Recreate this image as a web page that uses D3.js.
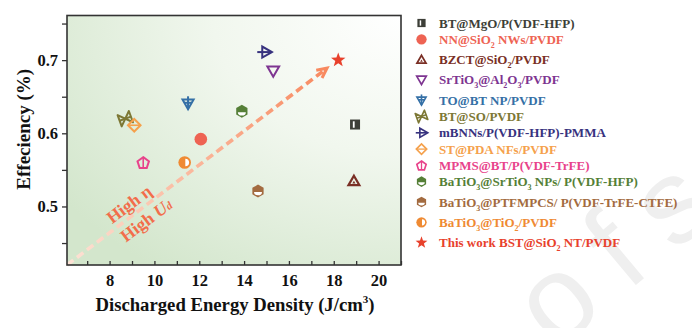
<!DOCTYPE html>
<html>
<head>
<meta charset="utf-8">
<script src="https://cdn.jsdelivr.net/npm/d3@7/dist/d3.min.js"></script>
<style>
  html, body { margin: 0; padding: 0; background: #fff; }
  svg { display: block; }
  text { font-family: "Liberation Serif", "Times New Roman", serif; font-weight: bold; }
  text.watermark { font-family: "Liberation Sans", Arial, sans-serif; font-weight: normal; }
</style>
</head>
<body>
<svg id="chart" width="692" height="328"></svg>
<script>
// Composite films: discharged energy density vs. efficiency
const materials = [
  "BT@MgO/P(VDF-HFP)",
  "NN@SiO_2 NWs/PVDF",
  "BZCT@SiO_2/PVDF",
  "SrTiO_3@Al_2O_3/PVDF",
  "TO@BT NP/PVDF",
  "BT@SO/PVDF",
  "mBNNs/P(VDF-HFP)-PMMA",
  "ST@PDA NFs/PVDF",
  "MPMS@BT/P(VDF-TrFE)",
  "BaTiO_3@SrTiO_3 NPs/ P(VDF-HFP)",
  "BaTiO_3@PTFMPCS/ P(VDF-TrFE-CTFE)",
  "BaTiO_3@TiO_2/PVDF",
  "This work BST@SiO_2 NT/PVDF"
];
const energyDensity = [18.95, 12.07, 18.9, 15.3, 11.5, 8.7, 14.9, 9.1, 9.5, 13.9, 14.62, 11.35, 18.2];
const efficiency    = [0.612, 0.592, 0.535, 0.685, 0.641, 0.620, 0.711, 0.611, 0.560, 0.630, 0.521, 0.560, 0.700];
const markerTypes = ["squareBar", "circle", "triDot", "triDown", "triDownCross", "bowtie",
                     "triRight", "diamondLine", "pentLine", "hexHalf", "hexHalf", "circleHalf", "star"];
const colors = ["#3d3f38", "#ee6353", "#7a2f25", "#7e3591", "#3570a6", "#7d7835", "#37327e",
                "#f5a14c", "#e8438b", "#557f37", "#a36b40", "#ef8a33", "#e8412c"];

const xMajorTicks = [8, 10, 12, 14, 16, 18, 20];
const xMinorTicks = [7, 9, 11, 13, 15, 17, 19, 21];
const yMajorTicks = [0.5, 0.6, 0.7];
const yMinorTicks = [0.45, 0.55, 0.65, 0.75];

// trend arrow endpoints (data units)
const trendStart = [6.1, 0.42];
const trendEnd = [17.7, 0.689];

const svg = d3.select("#chart");
const plot = { left: 67, right: 401, top: 15.5, bottom: 265 };

const x = d3.scaleLinear().domain([6.1, 21]).range([plot.left, plot.right]);
const y = d3.scaleLinear().domain([0.42, 0.761]).range([plot.bottom, plot.top]);

const defs = svg.append("defs");
const bg = defs.append("radialGradient").attr("id", "bgGrad")
  .attr("cx", "100%").attr("cy", "0%").attr("r", "125%");
bg.append("stop").attr("offset", "0%").attr("stop-color", "#ffffff");
bg.append("stop").attr("offset", "45%").attr("stop-color", "#f1f7ee");
bg.append("stop").attr("offset", "100%").attr("stop-color", "#d3e6cc");

const p0 = [x(trendStart[0]), y(trendStart[1])];
const p1 = [x(trendEnd[0]), y(trendEnd[1])];
const ag = defs.append("linearGradient").attr("id", "arrowGrad")
  .attr("gradientUnits", "userSpaceOnUse")
  .attr("x1", p0[0]).attr("y1", p0[1]).attr("x2", p1[0]).attr("y2", p1[1]);
ag.append("stop").attr("offset", "0%").attr("stop-color", "#fde3d6");
ag.append("stop").attr("offset", "100%").attr("stop-color", "#f8895f");

// faint watermark behind everything
svg.append("text")
  .attr("class", "watermark")
  .attr("transform", "translate(556,352) rotate(-40)")
  .attr("font-size", 120)
  .attr("letter-spacing", 27)
  .attr("fill", "#efefef")
  .text("ofs");

// plot background
svg.append("rect")
  .attr("x", plot.left).attr("y", plot.top)
  .attr("width", plot.right - plot.left).attr("height", plot.bottom - plot.top)
  .attr("fill", "url(#bgGrad)");

// trend arrow
svg.append("line")
  .attr("x1", p0[0]).attr("y1", p0[1]).attr("x2", p1[0] - 3).attr("y2", p1[1] + 2.3)
  .attr("stroke", "url(#arrowGrad)").attr("stroke-width", 3.6)
  .attr("stroke-dasharray", "8,4.5");
{
  const ang = Math.atan2(p1[1] - p0[1], p1[0] - p0[0]);
  const L = 11, spread = 0.45;
  const a1 = [p1[0] - L * Math.cos(ang - spread), p1[1] - L * Math.sin(ang - spread)];
  const a2 = [p1[0] - L * Math.cos(ang + spread), p1[1] - L * Math.sin(ang + spread)];
  svg.append("path")
    .attr("d", `M${a1[0]},${a1[1]} L${p1[0]},${p1[1]} L${a2[0]},${a2[1]}`)
    .attr("fill", "none").attr("stroke", "#f8895f").attr("stroke-width", 3)
    .attr("stroke-linejoin", "miter");
}
const textAngle = Math.atan2(p1[1] - p0[1], p1[0] - p0[0]) * 180 / Math.PI;
svg.append("text")
  .attr("transform", `translate(129,204) rotate(${textAngle})`)
  .attr("text-anchor", "middle").attr("dy", "0.35em")
  .attr("font-size", 17.5).attr("fill", "#f26d4b")
  .text("High η");
const ud = svg.append("text")
  .attr("transform", `translate(146,220) rotate(${textAngle})`)
  .attr("text-anchor", "middle").attr("dy", "0.35em")
  .attr("font-size", 17.5).attr("fill", "#f26d4b");
ud.append("tspan").text("High ");
ud.append("tspan").attr("font-style", "italic").text("U");
ud.append("tspan").attr("font-style", "italic").attr("font-size", 11).text("d");

// axes
const axisColor = "#333";
const xAxisMajor = d3.axisBottom(x).tickValues(xMajorTicks).tickSize(-4).tickPadding(9).tickFormat(d3.format("d"));
const xAxisMinor = d3.axisBottom(x).tickValues(xMinorTicks).tickSize(-4).tickFormat("");
const yAxisMajor = d3.axisLeft(y).tickValues(yMajorTicks).tickSize(5).tickPadding(4).tickFormat(d3.format(".1f"));
const yAxisMinor = d3.axisLeft(y).tickValues(yMinorTicks).tickSize(5).tickFormat("");

function styleAxis(g) {
  g.select(".domain").remove();
  g.selectAll(".tick line").attr("stroke", axisColor).attr("stroke-width", 1.3);
  g.selectAll(".tick text").attr("fill", "#111").attr("font-size", 16.5);
}
svg.append("g").attr("transform", `translate(0,${plot.bottom})`).call(xAxisMajor).call(styleAxis);
svg.append("g").attr("transform", `translate(0,${plot.bottom})`).call(xAxisMinor).call(styleAxis);
svg.append("g").attr("transform", `translate(${plot.left},0)`).call(yAxisMajor).call(styleAxis);
svg.append("g").attr("transform", `translate(${plot.left},0)`).call(yAxisMinor).call(styleAxis);

svg.append("rect")
  .attr("x", plot.left).attr("y", plot.top)
  .attr("width", plot.right - plot.left).attr("height", plot.bottom - plot.top)
  .attr("fill", "none").attr("stroke", axisColor).attr("stroke-width", 1.6);

// axis titles
const xt = svg.append("text")
  .attr("x", (plot.left + plot.right) / 2 + 1).attr("y", 311)
  .attr("text-anchor", "middle").attr("font-size", 18.7).attr("fill", "#111");
xt.append("tspan").text("Discharged Energy Density (J/cm");
xt.append("tspan").attr("font-size", 11).attr("dy", "-0.7em").text("3");
xt.append("tspan").attr("dy", "0.42em").text(")");

svg.append("text")
  .attr("transform", `translate(30,${(plot.top + plot.bottom) / 2 - 11}) rotate(-90)`)
  .attr("text-anchor", "middle").attr("font-size", 19).attr("fill", "#111")
  .text("Effeciency (%)");

// marker shapes
function polygon(n, r, rot) {
  const pts = [];
  for (let i = 0; i < n; i++) {
    const a = rot + i * 2 * Math.PI / n;
    pts.push([r * Math.cos(a), r * Math.sin(a)]);
  }
  return "M" + pts.map(p => p.join(",")).join("L") + "Z";
}
function drawMarker(g, type, c, k) {
  const sw = 2 * k;
  switch (type) {
    case "squareBar":
      g.append("rect").attr("x", -5 * k).attr("y", -5 * k).attr("width", 10 * k).attr("height", 10 * k).attr("fill", c);
      g.append("rect").attr("x", -2.2 * k).attr("y", -3.2 * k).attr("width", 1.8 * k).attr("height", 6.4 * k).attr("fill", "#fff");
      break;
    case "circle":
      g.append("circle").attr("r", 6.3 * k).attr("fill", c);
      break;
    case "triDot":
      g.append("path").attr("d", polygon(3, 6.3 * k, -Math.PI / 2)).attr("transform", `translate(0,${1.2 * k})`)
        .attr("fill", "none").attr("stroke", c).attr("stroke-width", sw * 1.1);
      g.append("path").attr("d", polygon(3, 1.8 * k, -Math.PI / 2)).attr("transform", `translate(0,${1.8 * k})`).attr("fill", c);
      break;
    case "triDown":
      g.append("path").attr("d", polygon(3, 6.8 * k, Math.PI / 2)).attr("transform", `translate(0,${-1.2 * k})`)
        .attr("fill", "none").attr("stroke", c).attr("stroke-width", sw);
      break;
    case "triDownCross":
      g.append("path").attr("d", polygon(3, 6.4 * k, Math.PI / 2)).attr("transform", `translate(0,${-0.5 * k})`)
        .attr("fill", "none").attr("stroke", c).attr("stroke-width", sw);
      g.append("line").attr("x1", 0).attr("x2", 0).attr("y1", -7 * k).attr("y2", 6 * k).attr("stroke", c).attr("stroke-width", sw);
      g.append("line").attr("x1", -3.5 * k).attr("x2", 3.5 * k).attr("y1", -0.5 * k).attr("y2", -0.5 * k).attr("stroke", c).attr("stroke-width", sw);
      break;
    case "bowtie":
      g.append("path").attr("d", `M${-6 * k},${-6 * k}L${6 * k},${6 * k}L${6 * k},${-6 * k}L${-6 * k},${6 * k}Z`)
        .attr("transform", "rotate(-20)")
        .attr("fill", "none").attr("stroke", c).attr("stroke-width", sw).attr("stroke-linejoin", "round");
      g.append("line").attr("x1", -6 * k).attr("x2", 6 * k).attr("y1", 0).attr("y2", 0)
        .attr("transform", "rotate(-20)").attr("stroke", c).attr("stroke-width", sw);
      break;
    case "triRight":
      g.append("path").attr("d", polygon(3, 6.4 * k, 0)).attr("transform", `translate(${1.2 * k},0)`)
        .attr("fill", "none").attr("stroke", c).attr("stroke-width", sw);
      g.append("line").attr("x1", -7 * k).attr("x2", 6 * k).attr("y1", 0).attr("y2", 0).attr("stroke", c).attr("stroke-width", sw);
      break;
    case "diamondLine":
      g.append("path").attr("d", polygon(4, 6.3 * k, 0))
        .attr("fill", "none").attr("stroke", c).attr("stroke-width", sw);
      g.append("line").attr("x1", -6 * k).attr("x2", 6 * k).attr("y1", 0).attr("y2", 0).attr("stroke", c).attr("stroke-width", sw * 0.8);
      break;
    case "pentLine":
      g.append("path").attr("d", polygon(5, 6 * k, -Math.PI / 2)).attr("transform", `translate(0,${0.6 * k})`)
        .attr("fill", "none").attr("stroke", c).attr("stroke-width", sw);
      g.append("line").attr("x1", 0).attr("x2", 0).attr("y1", -5.4 * k).attr("y2", 5.4 * k).attr("stroke", c).attr("stroke-width", sw * 0.8);
      break;
    case "hexHalf":
      g.append("path").attr("d", polygon(6, 6.5 * k, -Math.PI / 2)).attr("fill", c);
      g.append("path").attr("d", `M${-4 * k},${0.8 * k}L${4 * k},${0.8 * k}A${4 * k},${3.4 * k} 0 0 1 ${-4 * k},${0.8 * k}Z`).attr("fill", "#fff");
      break;
    case "circleHalf":
      g.append("circle").attr("r", 6.3 * k).attr("fill", c);
      g.append("path").attr("d", `M${0.6 * k},${-3.8 * k}A${3.8 * k},${3.8 * k} 0 0 1 ${0.6 * k},${3.8 * k}Z`).attr("fill", "#fff");
      break;
    case "star": {
      const pts = [];
      for (let i = 0; i < 10; i++) {
        const r = (i % 2 === 0 ? 7.6 : 3.1) * k;
        const a = -Math.PI / 2 + i * Math.PI / 5;
        pts.push([r * Math.cos(a), r * Math.sin(a)]);
      }
      g.append("path").attr("d", "M" + pts.map(p => p.join(",")).join("L") + "Z").attr("fill", c);
      break;
    }
  }
}

// data points
materials.forEach((m, i) => {
  const g = svg.append("g").attr("transform", `translate(${x(energyDensity[i])},${y(efficiency[i])})`);
  drawMarker(g, markerTypes[i], colors[i], 1);
});

// legend
const hasSub = s => s.includes("_");
function addRich(textSel, s) {
  const parts = s.split(/(_\w)/).filter(p => p.length);
  let lowered = false;
  parts.forEach(p => {
    if (p.startsWith("_")) {
      textSel.append("tspan").attr("font-size", 8).attr("dy", lowered ? 0 : 4).text(p.slice(1));
      lowered = true;
    } else {
      textSel.append("tspan").attr("dy", lowered ? -4 : 0).text(p);
      lowered = false;
    }
  });
}
let ly = 23;
materials.forEach((m, i) => {
  if (i > 0) ly += hasSub(materials[i - 1]) ? 20.3 : 16.3;
  const g = svg.append("g").attr("transform", `translate(421.5,${ly})`);
  drawMarker(g, markerTypes[i], colors[i], 0.82);
  const t = svg.append("text").attr("x", 439).attr("y", ly + 4.5)
    .attr("font-size", 13).attr("fill", colors[i]);
  addRich(t, m);
});
</script>
</body>
</html>
